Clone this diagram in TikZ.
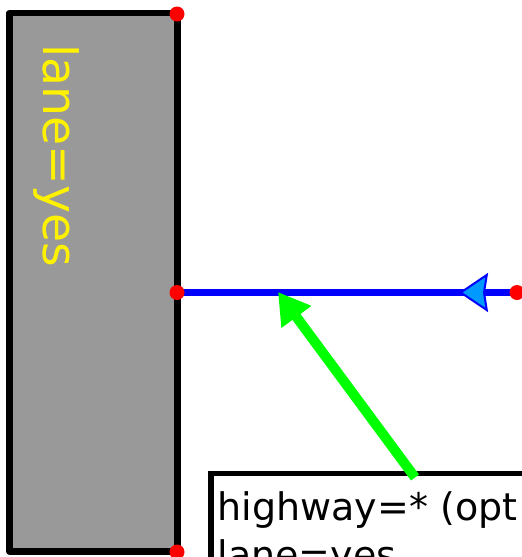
\documentclass[tikz,border=0pt]{standalone}
\usepackage{fontspec}
\setmainfont{DejaVu Sans}
\usetikzlibrary{arrows.meta, decorations.markings}

\definecolor{lanegray}{HTML}{999999}
\definecolor{wayblue}{HTML}{0000FF}
\definecolor{headblue}{HTML}{0099FF}
\definecolor{notegreen}{HTML}{00FF00}

\tikzset{
  reddot/.style={circle, fill=red, inner sep=0pt, minimum size=15pt},
  notebox/.style={draw, line width=5.5pt, fill=white, outer sep=0pt,
    inner xsep=6.5pt, inner ysep=18pt, text width=400pt, align=left,
    font=\fontsize{38}{48}\selectfont},
}

\begin{document}
\begin{tikzpicture}[x=1pt, y=-1pt]
\useasboundingbox (0,0) rectangle (522,557);
\clip (0,0) rectangle (522,557);

% lane area
\draw[line width=6.5pt, line join=round, fill=lanegray] (9.5,13) rectangle (177.5,551.5);
\node[rotate=-90, anchor=base west, inner sep=0pt, text=yellow,
  font=\fontsize{47.3}{58}\selectfont] (lanetag) at (43,44) {lane=yes};

\coordinate (laneN) at (177,14);
\coordinate (wayW) at (177,292.5);
\coordinate (laneS) at (177,552);
\coordinate (wayE) at (517,292.5);
\coordinate (hook) at (278,292);

% the way, pointing west
\draw[wayblue, line width=6.5pt, postaction={decorate},
  decoration={markings, mark=at position 58pt with
    {\arrow{Stealth[length=29pt, width=39pt, inset=3pt, fill=headblue, line width=2pt]}}}]
  (wayE) -- (wayW);

\node[reddot] (dotN) at (laneN) {};
\node[reddot] (dotW) at (wayW) {};
\node[reddot] (dotS) at (laneS) {};
\node[reddot] (dotE) at (wayE) {};

% tag note
\node[notebox, anchor=north west] (note) at (211,473.5) {highway=* (opt\\lane=yes};
\draw[notegreen, line width=10pt, -{Triangle[length=31pt, width=35pt]}]
  ([xshift=204pt, yshift=-4pt]note.north west) -- (hook);

\end{tikzpicture}
\end{document}
